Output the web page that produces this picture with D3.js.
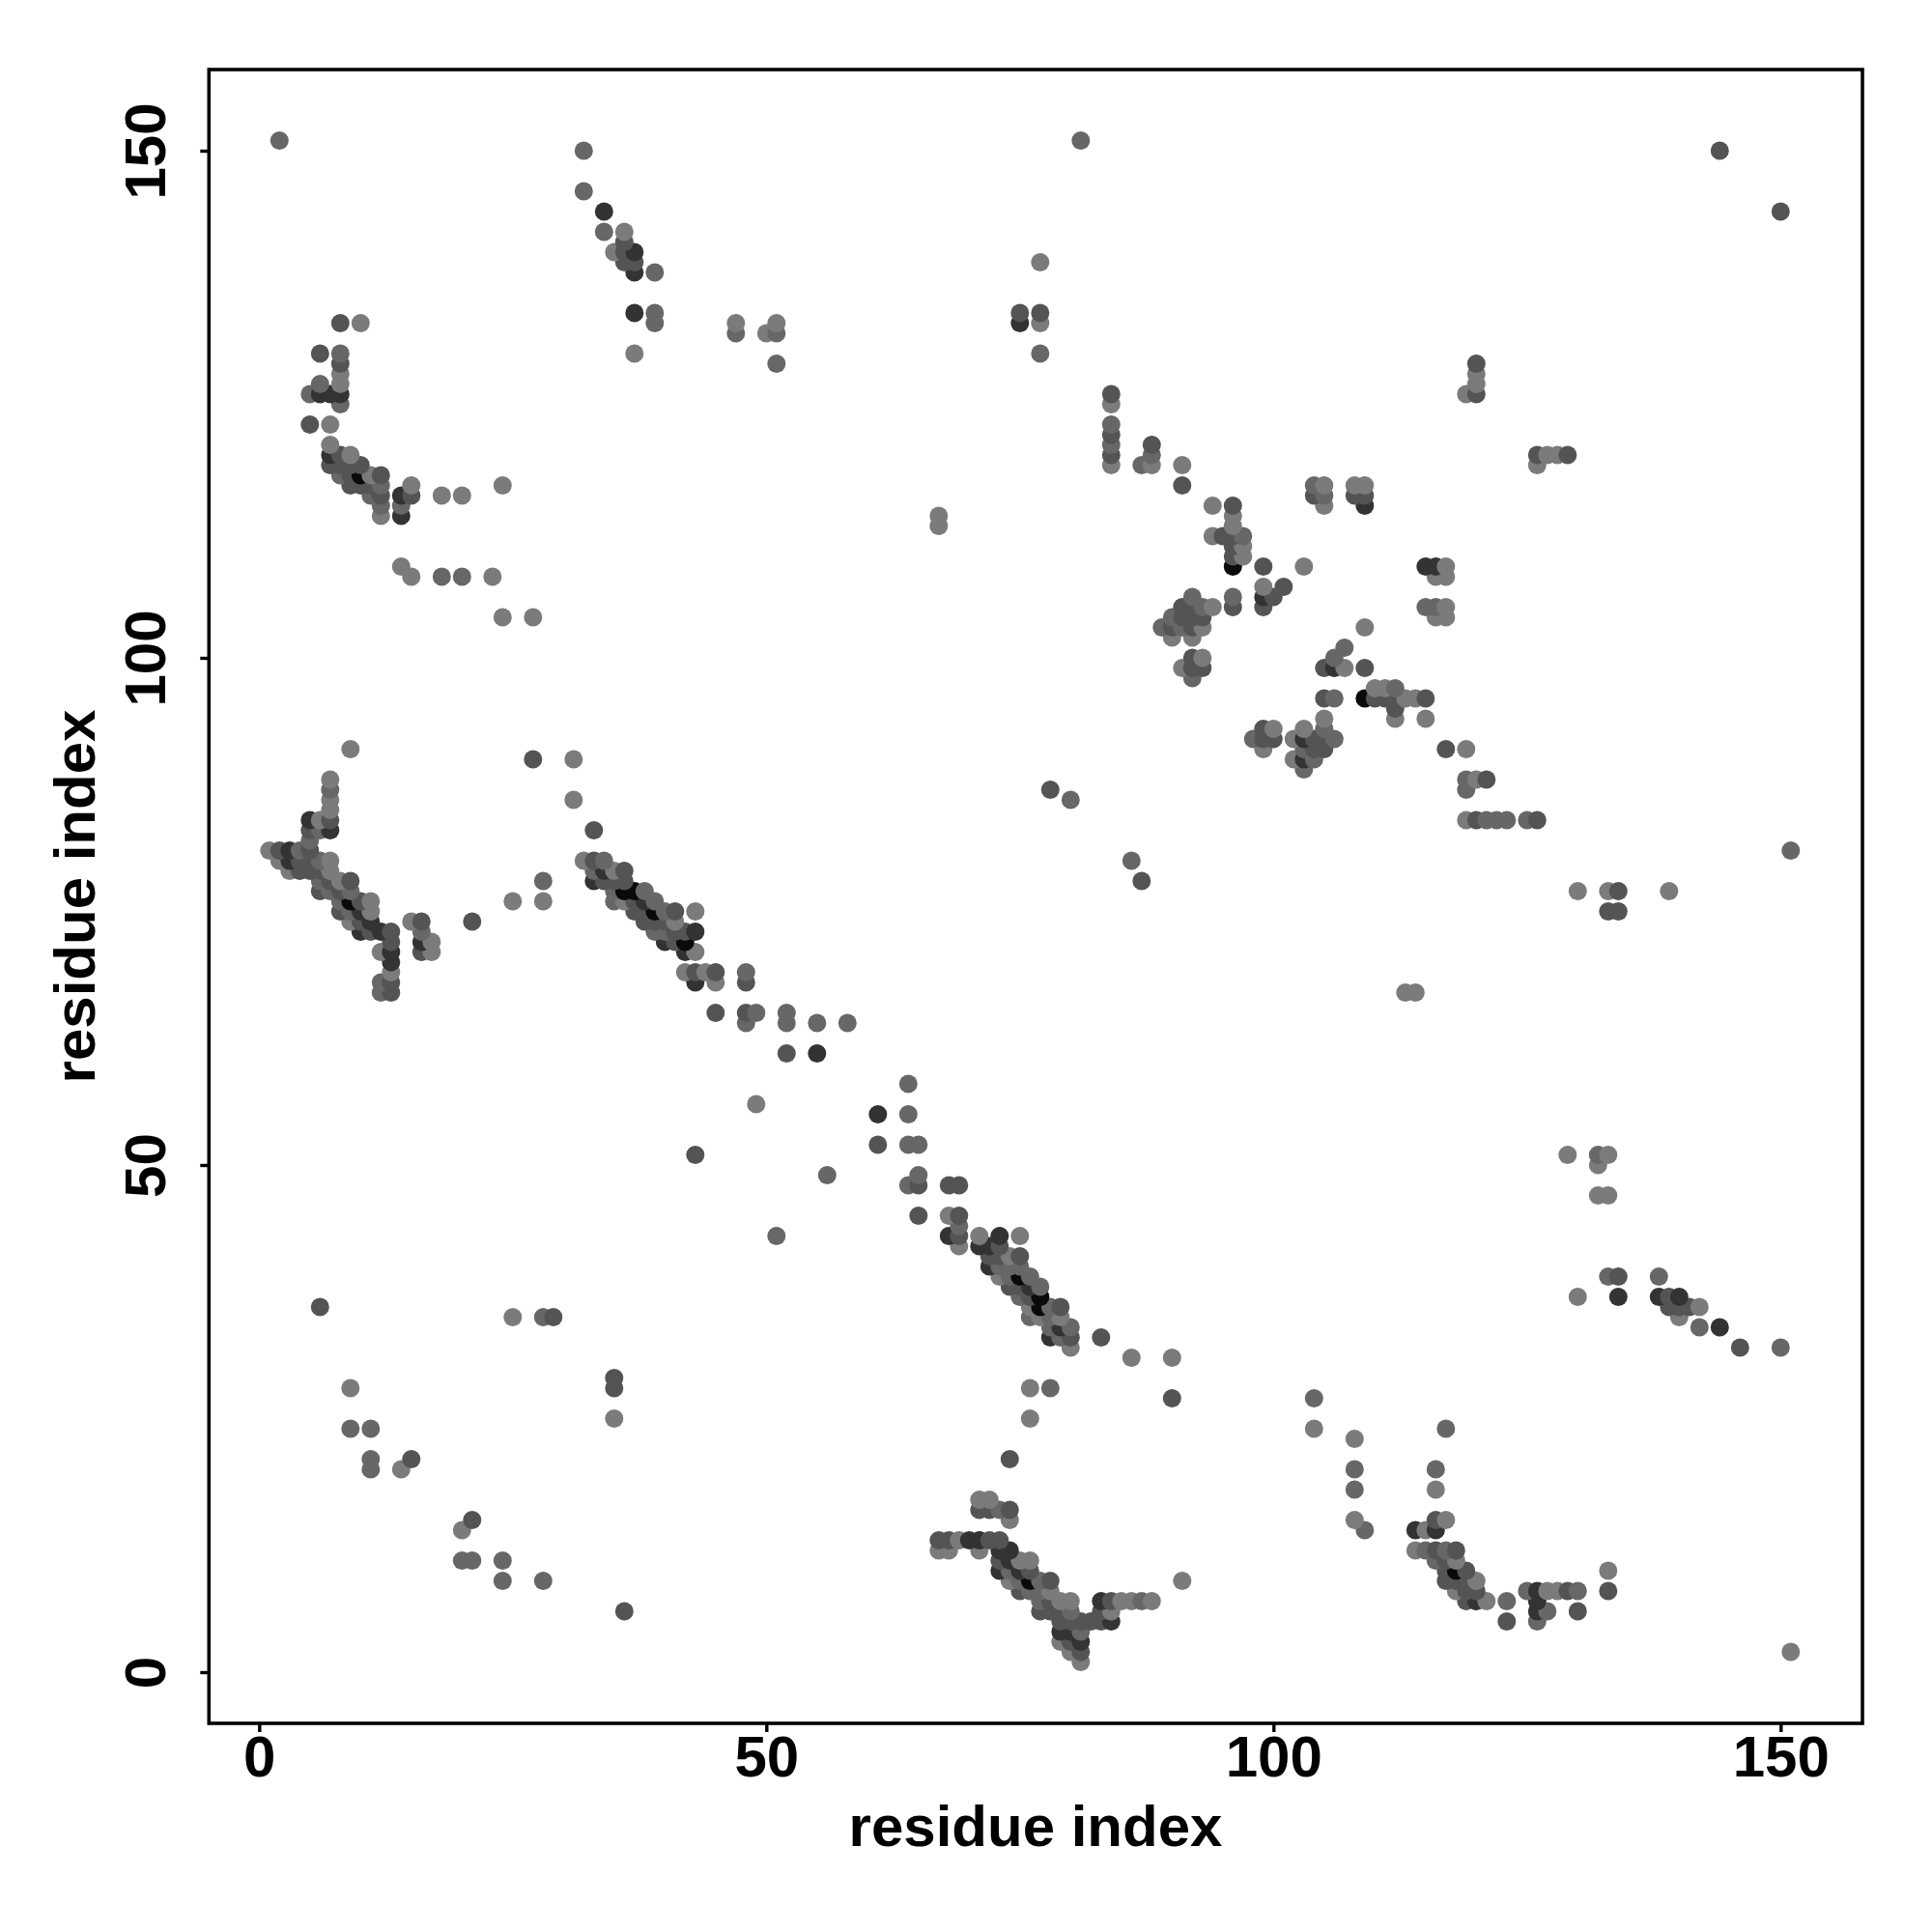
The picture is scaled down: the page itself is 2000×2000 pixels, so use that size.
<!DOCTYPE html>
<html><head><meta charset="utf-8">
<script src="https://cdn.jsdelivr.net/npm/d3@7/dist/d3.min.js"></script>
<style>html,body{margin:0;padding:0;background:#fff}svg{display:block}text{font-family:"Liberation Sans",sans-serif;font-weight:bold;fill:#000}</style>
</head><body><svg id="c" width="2000" height="2000"></svg>
<script>
// each contact: [residue i, residue j, shade score 1 (light) .. 5 (darkest)]
const lowerLeftScatter=[[6,36,3],[9,28,1],[9,24,2],[11,24,2],[11,21,2],[11,20,2],[15,21,3],[14,20,1],[20,14,1],[21,15,3],[20,11,2],[21,11,2],[24,11,2],[24,9,2],[28,9,2],[25,35,1],[28,35,2],[29,35,3],[35,29,3],[35,28,3],[35,25,1],[36,6,3],[43,51,3],[51,43,2],[56,49,2],[49,56,1]];
const upperHook=[[8,133,3],[10,133,1],[6,130,3],[8,130,2],[8,129,3],[8,128,1],[8,127,1],[8,126,4],[8,125,2],[6,127,2],[5,126,2],[6,126,4],[7,126,4],[5,123,3],[7,123,1],[7,121,1],[7,120,4],[7,119,3],[8,120,3],[9,120,1],[10,119,3],[8,118,2],[8,119,3],[9,119,3],[9,117,3],[9,118,3],[10,118,5],[10,117,3],[11,118,1],[12,118,3],[12,117,2],[12,116,3],[12,115,2],[12,114,1],[11,116,2],[11,117,3],[14,116,4],[15,116,3],[15,117,1],[14,115,2],[14,114,4],[18,116,1],[20,116,1],[24,117,1],[14,109,1],[15,108,1],[18,108,2],[20,108,2],[23,108,1],[24,104,1],[27,104,1]];
const middleLeftBand=[[9,91,1],[7,88,1],[7,87,2],[7,86,1],[7,85,1],[7,84,3],[7,83,4],[5,84,4],[5,83,3],[6,84,1],[6,83,2],[5,82,2],[5,81,3],[1,81,1],[2,81,3],[3,81,4],[4,81,2],[2,80,1],[3,80,4],[3,79,1],[4,80,3],[4,79,3],[5,80,3],[5,79,3],[6,80,2],[7,80,1],[7,79,1],[6,79,3],[6,77,3],[6,78,2],[7,78,3],[7,77,2],[8,78,1],[9,78,3],[8,77,3],[9,77,2],[8,75,3],[8,76,2],[9,76,5],[9,74,1],[9,75,2],[10,76,3],[11,76,1],[11,75,1],[10,75,4],[10,74,3],[10,73,4],[11,74,4],[11,73,3],[12,73,4],[13,73,3],[13,72,3],[13,71,4],[13,70,4],[13,69,1],[13,68,3],[13,67,3],[12,68,2],[12,67,2],[12,71,1],[15,74,1],[16,74,3],[16,73,2],[16,72,4],[16,71,3],[17,72,1],[17,71,1],[21,74,3],[25,76,1],[28,76,1],[28,78,2],[27,90,3],[31,90,1],[31,86,1]];
const secondDiagonal=[[33,83,3],[32,80,1],[33,80,3],[34,80,2],[33,79,2],[33,78,4],[34,79,4],[34,78,3],[35,79,1],[36,79,3],[35,78,3],[36,78,3],[35,77,2],[35,76,2],[36,77,5],[36,76,1],[37,77,5],[38,77,2],[37,76,3],[37,75,3],[38,76,4],[38,75,3],[38,74,3],[39,76,2],[39,75,5],[39,74,3],[39,73,2],[40,75,2],[40,74,3],[40,73,2],[40,72,4],[41,75,3],[41,74,1],[41,73,3],[41,72,3],[43,75,1],[42,73,3],[43,73,4],[42,72,5],[42,71,4],[43,71,1],[42,69,1],[43,69,3],[44,69,1],[45,69,3],[43,68,4],[45,68,1],[48,69,2],[48,68,3],[45,65,3],[48,65,3],[49,65,2],[48,64,2],[52,65,2],[52,64,2],[55,64,2],[58,64,2],[52,61,3],[55,61,4]];
const centreDiagonal=[[61,55,4],[61,52,3],[64,58,2],[64,55,2],[64,52,2],[65,52,2],[65,49,2],[64,48,2],[65,48,3],[65,45,3],[68,48,3],[69,48,3],[68,45,1],[69,45,3],[69,44,2],[68,43,4],[69,43,3],[69,42,1],[71,43,1],[73,43,4],[75,43,1],[71,42,4],[72,42,4],[73,42,3],[72,41,3],[72,40,4],[73,41,3],[73,40,2],[73,39,1],[74,41,1],[75,41,3],[74,40,2],[74,39,2],[74,38,3],[75,40,2],[75,39,5],[75,38,3],[75,37,2],[76,39,2],[76,38,4],[76,37,3],[76,36,1],[76,35,2],[77,38,2],[77,37,5],[77,36,5],[77,35,1],[78,36,2],[78,35,2],[78,34,2],[78,33,4],[79,36,3],[79,35,1],[79,34,4],[79,33,2],[80,34,2],[80,33,3],[80,32,1],[83,33,3],[86,31,1],[90,31,1],[90,27,3],[76,28,1],[78,28,2],[76,25,1],[74,21,3]];
const lowerBand=[[71,17,1],[72,17,1],[71,16,3],[72,16,3],[73,16,2],[74,16,3],[74,15,1],[67,13,3],[68,13,3],[69,13,1],[70,13,4],[71,13,4],[72,13,3],[73,13,3],[67,12,1],[68,12,1],[71,12,1],[73,12,4],[73,11,3],[73,10,4],[74,12,4],[74,11,4],[74,10,2],[74,9,1],[75,11,1],[76,11,1],[75,10,4],[76,10,3],[75,9,2],[75,8,3],[76,9,5],[76,8,2],[77,9,2],[78,9,3],[77,8,2],[77,7,2],[77,6,3],[78,8,1],[78,7,3],[78,6,3],[79,7,1],[80,7,1],[79,6,3],[79,5,3],[79,4,4],[79,3,1],[80,6,2],[80,5,3],[80,4,4],[80,3,3],[80,2,1],[81,5,3],[81,4,2],[81,3,4],[81,2,3],[81,1,1],[82,5,3],[83,5,3],[84,5,4],[83,6,3],[84,6,1],[83,7,4],[84,7,3],[85,7,1],[86,7,1],[87,7,2],[88,7,1],[91,9,1]];
const topScatter=[[2,151,2],[81,151,2],[32,150,2],[32,146,2],[34,144,4],[34,142,2],[36,142,1],[36,141,3],[35,140,1],[36,140,3],[36,139,3],[37,140,4],[37,139,3],[37,138,4],[39,138,2],[37,134,4],[39,134,2],[39,133,2],[37,130,1],[47,133,1],[47,132,2],[50,132,1],[51,133,1],[51,132,2],[51,129,2],[75,134,3],[75,133,4],[77,134,3],[77,133,1],[77,139,1],[77,130,2],[67,114,1],[67,113,1],[78,87,3],[80,86,2],[86,80,2],[87,78,3],[113,67,1],[114,67,1]];
const upperRightA=[[84,126,3],[84,125,1],[84,123,2],[84,122,3],[84,121,2],[84,120,3],[84,119,1],[87,119,2],[88,119,1],[88,120,2],[88,121,3],[91,119,1],[91,117,3],[94,115,1],[96,115,3],[96,114,1],[96,113,1],[94,112,1],[95,112,3],[96,112,3],[97,112,2],[97,111,1],[97,110,1],[96,111,3],[96,110,3],[96,109,5],[99,109,3],[103,109,1],[99,107,1],[101,107,3],[100,106,3],[99,106,4],[99,105,3],[96,106,2],[96,105,3],[92,106,2],[91,105,3],[92,105,3],[93,105,2],[94,105,1],[90,104,2],[91,104,3],[92,104,3],[93,104,3],[89,103,2],[90,103,3],[91,103,2],[92,103,3],[93,103,1],[90,102,1],[92,102,1],[92,100,3],[93,100,1],[91,99,1],[92,99,3],[93,99,3],[92,98,2]];
const upperRightB=[[104,117,2],[105,117,1],[104,116,3],[105,116,2],[105,115,1],[108,117,1],[109,117,1],[108,116,3],[109,116,3],[109,115,4],[107,101,2],[106,100,2],[107,99,1],[105,99,3],[106,99,4],[109,99,3],[109,103,1],[105,96,3],[106,96,2],[109,96,5],[110,97,1],[111,97,1],[112,97,2],[110,96,3],[111,96,3],[112,96,3],[112,95,3],[112,94,1],[113,96,1],[114,96,1],[115,96,3],[115,94,1],[105,94,1],[105,93,2],[103,93,1],[102,92,1],[103,92,4],[104,92,3],[105,92,3],[106,92,2],[103,91,2],[104,91,3],[105,91,3],[102,90,1],[103,90,4],[104,90,2],[103,89,2],[98,92,2],[99,93,3],[100,93,1],[99,92,3],[100,92,3],[99,91,1]];
const rightScatter=[[115,109,4],[116,109,4],[117,109,1],[116,108,1],[117,108,1],[115,105,2],[116,105,2],[117,105,1],[116,104,1],[117,104,1],[120,129,3],[120,128,1],[120,127,1],[119,126,1],[120,126,3],[126,120,3],[126,119,1],[127,120,1],[128,120,1],[129,120,3],[117,91,3],[119,91,1],[119,88,2],[120,88,1],[121,88,3],[119,87,2],[119,84,1],[120,84,3],[121,84,2],[122,84,2],[123,84,2],[125,84,2],[126,84,3],[151,81,2],[130,77,1],[133,77,1],[134,77,3],[133,75,3],[134,75,3],[139,77,1],[144,150,3],[150,144,3]];
const lowerRightScatter=[[129,51,1],[132,51,2],[133,51,1],[132,50,1],[132,47,1],[133,47,1],[133,39,2],[134,39,3],[130,37,1],[134,37,4],[138,39,2],[138,37,4],[139,37,3],[140,37,4],[139,36,3],[140,36,3],[141,36,3],[142,36,1],[140,35,1],[142,34,2],[144,34,4],[146,32,3],[150,32,2],[151,2,1],[104,27,2],[104,24,1],[108,23,1],[108,20,2],[108,18,2],[108,15,1],[109,14,2],[117,24,2],[116,20,2],[116,18,1]];
const lowerRightHook=[[114,14,4],[115,14,1],[116,14,4],[116,15,3],[117,15,1],[114,12,1],[115,12,2],[116,12,3],[117,12,2],[118,12,3],[116,11,2],[117,11,3],[118,11,1],[117,10,3],[118,10,5],[119,10,3],[117,9,3],[118,9,3],[119,9,3],[120,9,1],[118,8,1],[119,8,3],[120,8,3],[119,7,3],[120,7,4],[121,7,1],[123,7,2],[123,5,3],[125,8,2],[126,8,4],[127,8,1],[128,8,1],[129,8,3],[130,8,2],[126,7,4],[126,6,4],[127,6,2],[126,5,2],[130,6,3],[133,10,1],[133,8,3]];

const xTicks=[0,50,100,150], yTicks=[0,50,100,150];
const axisTitle="residue index";
const scoreLevels=[1,2,3,4,5], shadeLevels=["#7b7b7b","#676767","#545454","#333333","#0a0a0a"];

const contacts=[lowerLeftScatter,upperHook,middleLeftBand,secondDiagonal,centreDiagonal,lowerBand,topScatter,upperRightA,upperRightB,rightScatter,lowerRightScatter,lowerRightHook].flat()
  .map(([i,j,s])=>({i,j,s})).sort((a,b)=>d3.ascending(a.j,b.j)||d3.ascending(a.i,b.i));

const L=216.3,R=1928,T=72,B=1784;
const x=d3.scaleLinear().domain([0,150]).range([268.3,1843.3]);
const y=d3.scaleLinear().domain([0,150]).range([1731,156]);
const shade=d3.scaleLinear().domain(scoreLevels).range(shadeLevels);
const svg=d3.select("#c");
svg.append("g").selectAll("circle").data(contacts).join("circle")
  .attr("cx",d=>x(d.i)).attr("cy",d=>y(d.j)).attr("r",9.5).attr("fill",d=>shade(d.s));
svg.append("rect").attr("x",L).attr("y",T).attr("width",R-L).attr("height",B-T).attr("fill","none").attr("stroke","#000").attr("stroke-width",3.6);

const ax=svg.append("g").attr("transform",`translate(0,${B})`).call(d3.axisBottom(x).tickValues(xTicks).tickSize(9).tickPadding(3.4));
ax.select(".domain").remove();
ax.selectAll("line").attr("stroke","#000").attr("stroke-width",3.4);
ax.selectAll("text").attr("font-size",60).attr("font-family","Liberation Sans").attr("font-weight","bold").attr("fill","#000");
const ay=svg.append("g").attr("transform",`translate(${L},0)`).call(d3.axisLeft(y).tickValues(yTicks).tickSize(9).tickFormat(d3.format("d")));
ay.select(".domain").remove();
ay.selectAll("line").attr("stroke","#000").attr("stroke-width",3.4);
ay.selectAll("text").attr("font-size",60).attr("font-family","Liberation Sans").attr("font-weight","bold").attr("fill","#000")
  .attr("x",0).attr("y",0).attr("dy",0).attr("text-anchor","middle")
  .attr("transform","translate(-45.3,0) rotate(-90)");
svg.append("text").attr("x",1072).attr("y",1911).attr("text-anchor","middle").attr("font-size",60).text(axisTitle);
svg.append("text").attr("transform","translate(98,928) rotate(-90)").attr("text-anchor","middle").attr("font-size",60).text(axisTitle);
</script></body></html>
